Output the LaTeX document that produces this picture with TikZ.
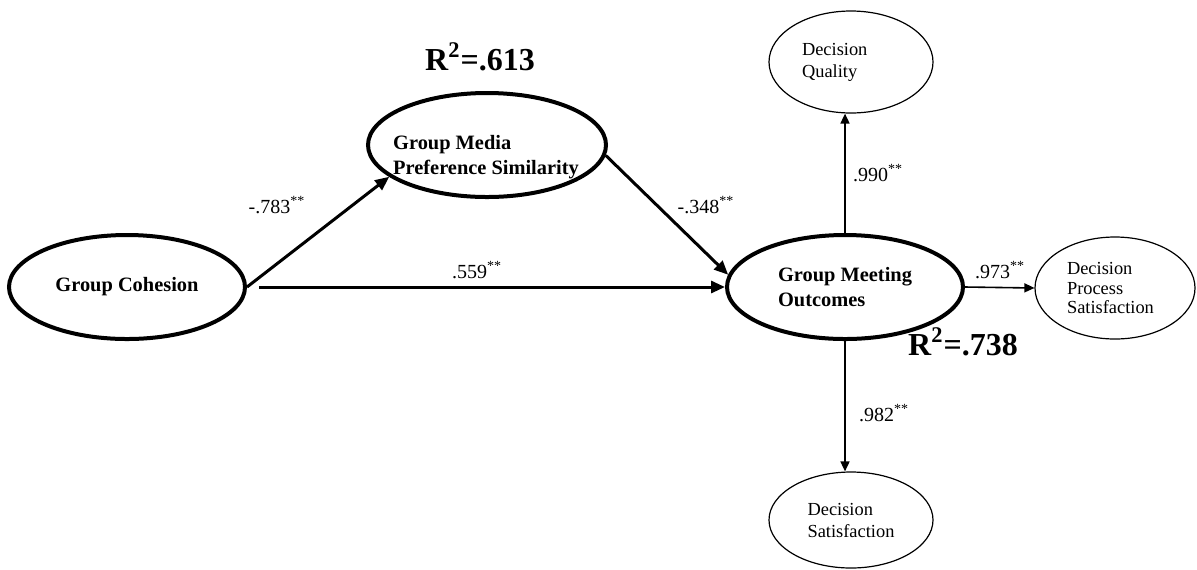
\documentclass[tikz,border=0pt]{standalone}
\usepackage{fontspec}
\setmainfont{Liberation Serif}
\usetikzlibrary{positioning,shapes.geometric,arrows.meta}

\tikzset{
  latent/.style={draw,ellipse,line width=2pt,inner sep=0pt},
  indicator/.style={draw,ellipse,line width=0.6pt,inner sep=0pt},
  bigtxt/.style={font=\fontsize{10.2}{12.4}\selectfont\bfseries,align=left},
  smalltxt/.style={font=\fontsize{9.2}{11}\selectfont,align=left},
  coef/.style={font=\fontsize{10}{12}\selectfont},
  rsq/.style={font=\fontsize{16}{18}\selectfont\bfseries},
  patharrow/.style={-{Triangle[length=7pt,width=6pt]},line width=1.5pt},
  loadarrow/.style={-{Triangle[length=5pt,width=4.5pt]},line width=0.8pt}
}

\begin{document}
\begin{tikzpicture}[x=0.5pt,y=-0.5pt]
  \fill[white] (0,0) rectangle (1197,569);

  % latent constructs
  \node[latent,bigtxt,minimum width=118pt,minimum height=52pt] (coh) at (127,287) {Group Cohesion};
  \node[latent,minimum width=119pt,minimum height=52pt] (media) at (487,145) {};
  \node[bigtxt] (mediatxt) at (486,157) {Group Media\\Preference Similarity};
  \node[latent,bigtxt,minimum width=118pt,minimum height=52pt] (out) at (845,287) {Group Meeting\\Outcomes};

  % indicators
  \node[indicator,smalltxt,text width=49pt,minimum width=82pt,minimum height=51pt] (qual) at (851,62) {Decision\\Quality};
  \node[indicator,smalltxt,font=\fontsize{9.2}{9.6}\selectfont,text width=48pt,minimum width=80pt,minimum height=51pt] (proc) at (1115,288) {Decision\\Process\\Satisfaction};
  \node[indicator,smalltxt,minimum width=82pt,minimum height=48pt] (sat) at (851,520) {Decision\\Satisfaction};

  % paths
  \draw[patharrow] (coh.east) -- (media.198);
  \draw[patharrow] (media.-5) -- (out.174);
  \draw[patharrow,shorten <=6pt] (coh.east) -- (out.west);
  \draw[loadarrow] (out.north) -- (out.north |- qual.south);
  \draw[loadarrow] (out.south) -- (out.south |- sat.north);
  \draw[loadarrow] (out.east) -- (proc.west);

  % coefficients
  \node[coef] (c783) at (277,205) {-.783\textsuperscript{**}};
  \node[coef] (c559) at (477,270) {.559\textsuperscript{**}};
  \node[coef] (c348) at (706,205) {-.348\textsuperscript{**}};
  \node[coef] (c990) at (878,173) {.990\textsuperscript{**}};
  \node[coef] (c973) at (1000,270) {.973\textsuperscript{**}};
  \node[coef] (c982) at (884,413) {.982\textsuperscript{**}};
  \node[rsq] (r613) at (480,57) {R\textsuperscript{2}=.613};
  \node[rsq] (r738) at (963,342) {R\textsuperscript{2}=.738};
\end{tikzpicture}
\end{document}
